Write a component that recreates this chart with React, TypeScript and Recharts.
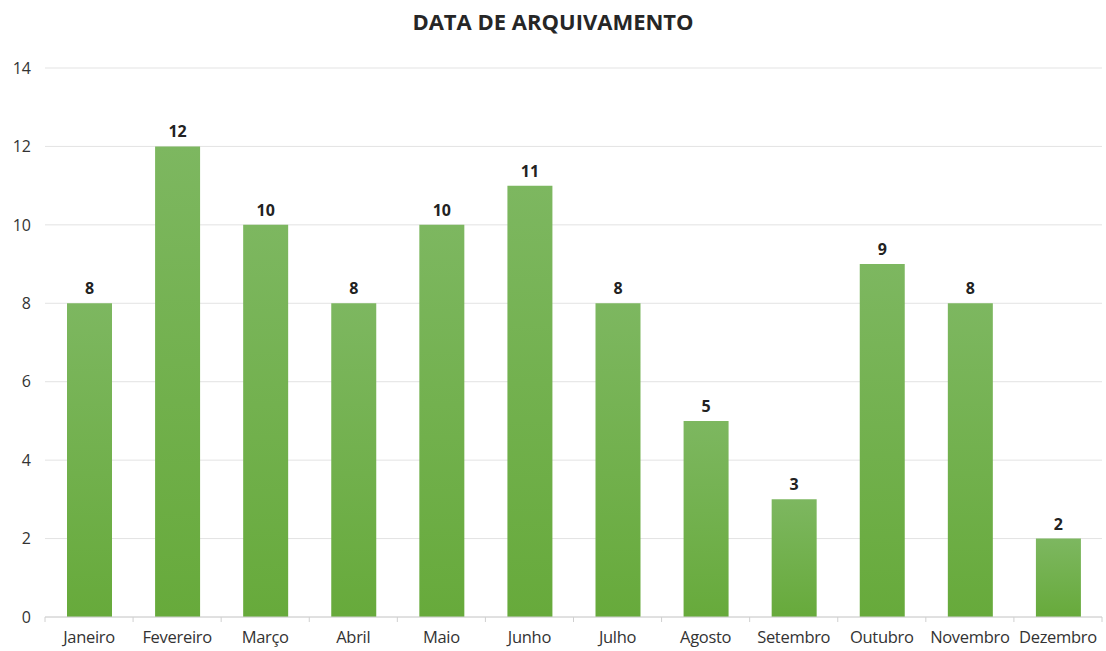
import React from 'react';
import { BarChart, Bar, XAxis, YAxis, CartesianGrid, LabelList } from 'recharts';

const months = [
  'Janeiro', 'Fevereiro', 'Março', 'Abril', 'Maio', 'Junho',
  'Julho', 'Agosto', 'Setembro', 'Outubro', 'Novembro', 'Dezembro',
];
const counts = [8, 12, 10, 8, 10, 11, 8, 5, 3, 9, 8, 2];
const yTicks = [0, 2, 4, 6, 8, 10, 12, 14];

const data = months.map((m, i) => ({ month: m, value: counts[i] }));

const FONT = '"Open Sans", sans-serif';
const BAND = (1102 - 45) / months.length;

const MonthTick = (props: any) => {
  const { x, y, payload, index } = props;
  const left = x - BAND / 2;
  const right = x + BAND / 2;
  return (
    <g>
      <line x1={left} y1={y - 8} x2={left} y2={y - 3} stroke="#d0d0d0" />
      {index === months.length - 1 && (
        <line x1={right} y1={y - 8} x2={right} y2={y - 3} stroke="#d0d0d0" />
      )}
      <text x={x} y={y + 18} textAnchor="middle" fill="#333" fontSize={16.5} fontFamily={FONT} letterSpacing={-0.3}>
        {payload.value}
      </text>
    </g>
  );
};

const App: React.FC = () => {
  return (
    <div style={{ position: 'absolute', left: 0, top: 0, width: 1106, height: 651, background: '#fff' }}>
      <div
        style={{
          position: 'absolute',
          top: 6,
          left: 0,
          width: 1106,
          textAlign: 'center',
          fontFamily: FONT,
          fontWeight: 700,
          fontSize: 22,
          color: '#262626',
        }}
      >
        DATA DE ARQUIVAMENTO
      </div>
      <BarChart
        width={1106}
        height={651}
        data={data}
        margin={{ top: 68, right: 4, left: 0, bottom: 0 }}
      >
        <defs>
          <linearGradient id="barGreen" x1="0" y1="0" x2="0" y2="1">
            <stop offset="0%" stopColor="#7db760" />
            <stop offset="100%" stopColor="#67aa3b" />
          </linearGradient>
        </defs>
        <CartesianGrid vertical={false} stroke="#e3e3e3" />
        <XAxis
          dataKey="month"
          height={34}
          interval={0}
          axisLine={{ stroke: '#d0d0d0' }}
          tickLine={false}
          tick={<MonthTick />}
        />
        <YAxis
          width={45}
          domain={[0, 14]}
          ticks={yTicks}
          axisLine={false}
          tickLine={false}
          tickMargin={8}
          tick={{ fill: '#333', fontSize: 16, fontFamily: FONT }}
        />
        <Bar dataKey="value" fill="url(#barGreen)" barSize={45} isAnimationActive={false}>
          <LabelList
            dataKey="value"
            position="top"
            offset={9}
            fill="#222"
            fontSize={16}
            fontWeight={700}
            fontFamily={FONT}
          />
        </Bar>
      </BarChart>
    </div>
  );
};

export default App;
